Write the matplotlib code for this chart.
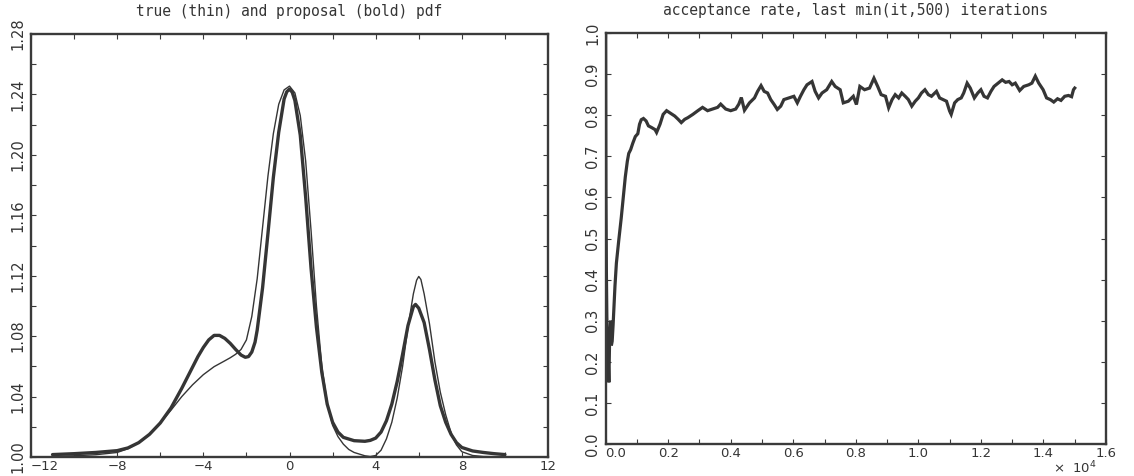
import matplotlib
matplotlib.use('Agg')
import matplotlib.pyplot as plt
from matplotlib.ticker import FixedLocator

# ---------------- data ----------------
bold_x = [-11, -10, -9, -8, -7.5, -7, -6.5, -6, -5.5, -5, -4.5, -4.25, -4, -3.75, -3.5,
          -3.25, -3, -2.75, -2.5, -2.25, -2.05, -1.9, -1.75, -1.6, -1.5, -1.25, -1.0,
          -0.75, -0.5, -0.25, -0.125, 0, 0.125, 0.25, 0.5, 0.75, 1.0, 1.25, 1.5, 1.75,
          2.0, 2.25, 2.5, 3.0, 3.5, 3.75, 4.0, 4.25, 4.5, 4.75, 5.0, 5.25, 5.5, 5.75,
          5.85, 6.0, 6.25, 6.5, 6.75, 7.0, 7.25, 7.5, 7.75, 8.0, 8.5, 9.0, 9.5, 10]
bold_y = [1.0016, 1.0022, 1.0030, 1.0042, 1.0060, 1.0095, 1.0150, 1.0225, 1.0325, 1.0455,
          1.0595, 1.0665, 1.0725, 1.0775, 1.0805, 1.0805, 1.0785, 1.0752, 1.0712, 1.0675,
          1.0660, 1.0665, 1.0695, 1.0760, 1.0840, 1.1120, 1.1480, 1.1850, 1.2150, 1.2370,
          1.2418, 1.2435, 1.2415, 1.2360, 1.2130, 1.1720, 1.1250, 1.0860, 1.0560, 1.0350,
          1.0230, 1.0165, 1.0130, 1.0108, 1.0104, 1.0110, 1.0125, 1.0165, 1.0240, 1.0350,
          1.0500, 1.0680, 1.0870, 1.0995, 1.1010, 1.0985, 1.0890, 1.0710, 1.0510, 1.0340,
          1.0230, 1.0150, 1.0095, 1.0063, 1.0040, 1.0030, 1.0022, 1.0016]

thin_x = [-11, -10, -9, -8, -7.5, -7, -6.5, -6, -5.5, -5, -4.5, -4, -3.5, -3, -2.75, -2.5,
          -2.25, -2.0, -1.75, -1.5, -1.25, -1.0, -0.75, -0.5, -0.25, 0, 0.25, 0.5, 0.75,
          1.0, 1.25, 1.5, 1.75, 2.0, 2.25, 2.5, 2.75, 3.0, 3.5, 3.75, 4.0, 4.25, 4.5,
          4.75, 5.0, 5.25, 5.5, 5.75, 5.9, 6.0, 6.1, 6.25, 6.5, 6.75, 7.0, 7.25, 7.5,
          7.75, 8.0, 8.5, 9.0, 10]
thin_y = [1.0005, 1.0008, 1.0015, 1.0030, 1.0055, 1.0093, 1.0148, 1.0225, 1.0310, 1.0400,
          1.0478, 1.0545, 1.0598, 1.0637, 1.0657, 1.0680, 1.0712, 1.0775, 1.0930, 1.1180,
          1.1520, 1.1860, 1.2140, 1.2335, 1.2430, 1.2455, 1.2410, 1.2260, 1.1960, 1.1500,
          1.1000, 1.0600, 1.0360, 1.0210, 1.0135, 1.0085, 1.0050, 1.0030, 1.0008, 1.0003,
          1.0010, 1.0045, 1.0120, 1.0230, 1.0390, 1.0600, 1.0860, 1.1080, 1.1170, 1.1195,
          1.1175, 1.1080, 1.0880, 1.0630, 1.0430, 1.0280, 1.0160, 1.0080, 1.0035, 1.0010,
          1.0003, 1.0001]

iters = [1, 10, 25, 40, 55, 70, 85, 105, 125, 140, 160, 185, 210, 240, 270, 300, 345,
         420, 500, 560, 630, 695, 740, 800, 870, 950, 1030, 1085, 1140, 1210, 1295, 1370,
         1470, 1580, 1630, 1740, 1840, 1950, 2050, 2210, 2320, 2420, 2530, 2630, 2790,
         2950, 3100, 3260, 3420, 3580, 3680, 3840, 4000, 4160, 4260, 4340, 4440, 4600,
         4760, 4860, 4970, 5070, 5180, 5280, 5390, 5490, 5600, 5700, 5860, 6020, 6130,
         6230, 6340, 6440, 6600, 6700, 6810, 6920, 7070, 7230, 7340, 7500, 7600, 7760,
         7920, 8020, 8130, 8280, 8440, 8580, 8700, 8810, 8950, 9050, 9160, 9260, 9370,
         9470, 9580, 9680, 9790, 9900, 10000, 10100, 10210, 10320, 10420, 10580, 10680,
         10790, 10900, 11000, 11050, 11160, 11260, 11370, 11450, 11560, 11660, 11790,
         11900, 12000, 12100, 12210, 12320, 12420, 12550, 12680, 12790, 12900, 13000,
         13100, 13240, 13370, 13530, 13630, 13740, 13850, 13990, 14100, 14220, 14330,
         14450, 14560, 14680, 14800, 14900, 14960, 15000]
rate = [1.0, 0.62, 0.42, 0.31, 0.26, 0.24, 0.20, 0.15, 0.24, 0.265, 0.30, 0.24, 0.25, 0.29,
        0.34, 0.385, 0.44, 0.495, 0.55, 0.595, 0.65, 0.688, 0.707, 0.716, 0.732, 0.748,
        0.755, 0.778, 0.789, 0.792, 0.786, 0.774, 0.770, 0.765, 0.758, 0.778, 0.802, 0.811,
        0.806, 0.798, 0.790, 0.782, 0.790, 0.794, 0.802, 0.811, 0.819, 0.811, 0.815, 0.819,
        0.827, 0.815, 0.811, 0.815, 0.827, 0.843, 0.812, 0.830, 0.842, 0.858, 0.872, 0.858,
        0.854, 0.838, 0.826, 0.814, 0.822, 0.838, 0.842, 0.846, 0.830, 0.846, 0.862, 0.874,
        0.882, 0.858, 0.842, 0.854, 0.862, 0.882, 0.870, 0.862, 0.830, 0.834, 0.846, 0.826,
        0.870, 0.862, 0.866, 0.890, 0.870, 0.850, 0.846, 0.818, 0.838, 0.850, 0.842, 0.854,
        0.846, 0.838, 0.822, 0.834, 0.842, 0.854, 0.862, 0.850, 0.846, 0.858, 0.842, 0.838,
        0.834, 0.810, 0.802, 0.830, 0.838, 0.842, 0.854, 0.878, 0.866, 0.842, 0.854, 0.862,
        0.846, 0.842, 0.858, 0.870, 0.878, 0.886, 0.880, 0.882, 0.874, 0.878, 0.860, 0.870,
        0.874, 0.878, 0.895, 0.878, 0.862, 0.842, 0.838, 0.832, 0.840, 0.836, 0.846, 0.848,
        0.845, 0.862, 0.866]

left_xticks = [-12, -8, -4, 0, 4, 8, 12]
left_xlabels = ['\u221212', '\u22128', '\u22124', '0', '4', '8', '12']
left_yticks = [1.00, 1.04, 1.08, 1.12, 1.16, 1.20, 1.24, 1.28]
left_ylabels = ['1.00', '1.04', '1.08', '1.12', '1.16', '1.20', '1.24', '1.28']
right_xticks = [0, 2000, 4000, 6000, 8000, 10000, 12000, 14000, 16000]
right_xlabels = ['0.0', '0.2', '0.4', '0.6', '0.8', '1.0', '1.2', '1.4', '1.6']
right_yticks = [0.0, 0.1, 0.2, 0.3, 0.4, 0.5, 0.6, 0.7, 0.8, 0.9, 1.0]
right_ylabels = ['0.0', '0.1', '0.2', '0.3', '0.4', '0.5', '0.6', '0.7', '0.8', '0.9', '1.0']

title_left = 'true (thin) and proposal (bold) pdf'
title_right = 'acceptance rate, last min(it,500) iterations'

# ---------------- figure ----------------
W, H = 1134, 476
fig = plt.figure(figsize=(W / 100, H / 100), dpi=100)
ax1 = fig.add_axes([31 / W, 19 / H, 517 / W, 423 / H])
ax2 = fig.add_axes([605.6 / W, 32 / H, 500.4 / W, 411 / H])

INK = '#353535'
XFONT = dict(family=['DejaVu Sans'], size=9.5)
YFONT = dict(family=['Liberation Sans Narrow', 'DejaVu Sans'], size=10.5)
TFONT = dict(family=['DejaVu Sans Mono'], size=10.5)


def style(ax):
    for s in ax.spines.values():
        s.set_linewidth(1.7)
        s.set_color('#3a3a3a')
    ax.tick_params(which='both', direction='in', top=True, right=True,
                   length=3.5, width=0.8, color='#3a3a3a', labelcolor=INK)
    ax.tick_params(axis='x', pad=2.5)
    ax.tick_params(axis='y', pad=4)


# left panel
ax1.plot(thin_x, thin_y, color=INK, lw=1.0, solid_joinstyle='round')
ax1.plot(bold_x, bold_y, color=INK, lw=2.4, solid_joinstyle='round', solid_capstyle='round')
ax1.set_xlim(-12, 12)
ax1.set_ylim(1.00, 1.28)
ax1.xaxis.set_major_locator(FixedLocator(left_xticks))
ax1.xaxis.set_minor_locator(FixedLocator([-10, -6, -2, 2, 6, 10]))
ax1.set_xticklabels(left_xlabels, **XFONT)
ax1.yaxis.set_major_locator(FixedLocator(left_yticks))
ax1.yaxis.set_minor_locator(FixedLocator([1.02, 1.06, 1.10, 1.14, 1.18, 1.22, 1.26]))
ax1.set_yticklabels(left_ylabels, rotation=90, va='center', **YFONT)
style(ax1)
ax1.set_title(title_left, color=INK, pad=13, **TFONT)

# right panel
ax2.plot(iters, rate, color=INK, lw=2.3, solid_joinstyle='miter')
ax2.set_xlim(0, 16000)
ax2.set_ylim(0, 1.0)
ax2.xaxis.set_major_locator(FixedLocator(right_xticks))
ax2.xaxis.set_minor_locator(FixedLocator([1000, 3000, 5000, 7000, 9000, 11000, 13000, 15000]))
ax2.set_xticklabels(right_xlabels, **XFONT)
ax2.yaxis.set_major_locator(FixedLocator(right_yticks))
ax2.set_yticklabels(right_ylabels, rotation=90, va='center', **YFONT)
style(ax2)
ax2.set_title(title_right, color=INK, pad=13, **TFONT)

# first x label nudged to the right of the y axis, as in the original
ax1.xaxis.get_major_ticks()[0].label1.set_horizontalalignment('left')
ax2.xaxis.get_major_ticks()[0].label1.set_horizontalalignment('left')

fig.text(1053 / W, 1 - 468 / H, '\u00d7  10$^{4}$', color=INK, ha='left', va='center',
         family='DejaVu Sans', size=9.5)

fig.savefig('out.png', dpi=100, facecolor='white')
